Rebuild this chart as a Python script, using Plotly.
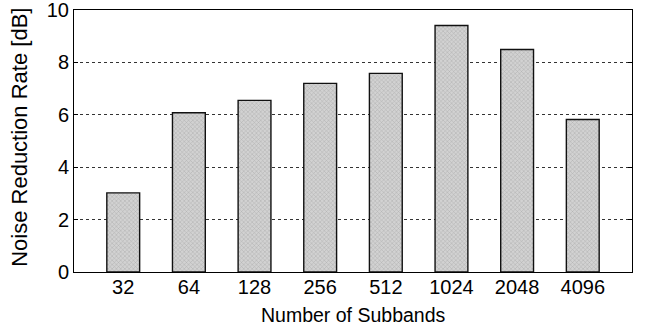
import plotly.graph_objects as go

categories = ["32", "64", "128", "256", "512", "1024", "2048", "4096"]
noise_reduction = [3.02, 6.08, 6.55, 7.2, 7.58, 9.41, 8.49, 5.82]
y_ticks = [0, 2, 4, 6, 8, 10]

fig = go.Figure()
fig.add_trace(go.Bar(
    x=categories,
    y=noise_reduction,
    width=0.5,
    marker=dict(
        color="#c4c4c4",
        line=dict(color="#111111", width=1.4),
        pattern=dict(shape="x", size=3, solidity=0.3, fgcolor="#888888", bgcolor="#d2d2d2"),
    ),
))

fig.update_layout(
    width=649, height=332,
    margin=dict(l=74, r=17, t=10, b=60, autoexpand=False),
    plot_bgcolor="white", paper_bgcolor="white",
    font=dict(family="Liberation Sans", size=20, color="black"),
    showlegend=False,
)
fig.update_xaxes(
    type="category",
    range=[-0.75, 7.75],
    automargin=False,
    showline=True, linecolor="black", linewidth=1, mirror=True,
    ticks="", showgrid=False,
    tickfont=dict(size=20),
    ticklabeloverflow="allow",
    ticklabelstandoff=-3,
)
fig.update_yaxes(
    range=[0, 10],
    tickvals=y_ticks,
    automargin=False,
    showline=True, linecolor="black", linewidth=1, mirror="ticks",
    ticks="inside", ticklen=4, tickcolor="black",
    showgrid=True, gridcolor="#333333", griddash="dot", gridwidth=1,
    zeroline=False,
    tickfont=dict(size=20),
    ticklabeloverflow="allow",
)
fig.add_annotation(
    text="Number of Subbands", xref="paper", yref="paper",
    x=0.5, y=-0.165, xanchor="center", yanchor="middle",
    showarrow=False, font=dict(size=19.5),
)
fig.add_annotation(
    text="Noise Reduction Rate [dB]", xref="paper", yref="paper",
    x=-0.099, y=0.515, xanchor="center", yanchor="middle", textangle=-90,
    showarrow=False, font=dict(size=22),
)

fig.write_html(
    "out.html",
    config={"displayModeBar": False},
    post_script="document.body.style.margin='0';",
)
